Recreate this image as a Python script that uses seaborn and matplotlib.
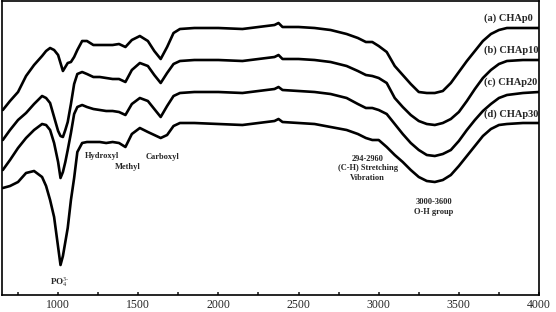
import pandas as pd
import seaborn as sns
import matplotlib.pyplot as plt
from matplotlib.ticker import MultipleLocator

# wavenumbers (cm-1) shared by all four spectra
wavenumber = [655, 700, 750, 800, 850, 900, 925, 950, 975, 1000,
              1015, 1030, 1045, 1060, 1080, 1100, 1120, 1150, 1180, 1220,
              1260, 1300, 1340, 1380, 1420, 1460, 1510, 1560, 1600, 1640,
              1680, 1720, 1760, 1850, 2000, 2150, 2300, 2350, 2375, 2400,
              2500, 2600, 2700, 2800, 2870, 2920, 2960, 3000, 3050, 3100,
              3150, 3200, 3250, 3300, 3350, 3400, 3450, 3500, 3550, 3600,
              3650, 3700, 3750, 3800, 3900, 4000]

# transmittance (arbitrary units, curves stacked)
chap0 = [190, 199, 208, 224, 235, 244, 249, 252, 250, 245,
         237, 229, 233, 237, 238, 243, 250, 259, 259, 255,
         255, 255, 255, 256, 253, 260, 264, 259, 249, 241,
         253, 267, 271, 272, 272, 271, 274, 275, 277, 273,
         273, 272, 270, 266, 262, 258, 258, 254, 248, 234,
         225, 216, 208, 207, 207, 209, 217, 228, 239, 249,
         259, 266, 270, 272, 272, 272]
chap10 = [160, 170, 180, 187, 196, 204, 202, 197, 183, 169,
          164, 163, 170, 178, 196, 216, 226, 228, 226, 223,
          223, 222, 221, 221, 218, 230, 237, 234, 225, 217,
          227, 236, 239, 240, 240, 239, 242, 243, 245, 241,
          241, 240, 238, 234, 229, 225, 224, 222, 217, 202,
          193, 185, 179, 176, 175, 177, 181, 188, 199, 211,
          222, 230, 236, 239, 240, 240]
chap20 = [130, 140, 152, 162, 170, 176, 175, 170, 157, 138,
          122, 128, 138, 150, 167, 186, 193, 195, 193, 191,
          190, 189, 189, 188, 185, 196, 202, 199, 191, 183,
          194, 204, 207, 208, 208, 207, 210, 211, 213, 210,
          209, 208, 206, 202, 196, 192, 192, 190, 186, 176,
          166, 157, 150, 145, 144, 146, 150, 159, 170, 180,
          189, 196, 202, 205, 207, 208]
chap30 = [112, 114, 118, 127, 129, 123, 114, 100, 83, 53,
          35, 44, 58, 72, 100, 122, 148, 157, 158, 158,
          158, 157, 158, 157, 153, 166, 172, 168, 165, 162,
          165, 174, 177, 177, 176, 175, 178, 179, 181, 178,
          177, 176, 173, 170, 166, 162, 160, 160, 153, 145,
          138, 130, 123, 119, 118, 120, 125, 134, 144, 154,
          164, 171, 175, 176, 177, 177]

sample_labels = ['(a) CHAp0', '(b) CHAp10', '(c) CHAp20', '(d) CHAp30']
label_y = [282, 250, 218, 186]

sns.set_style('ticks')
plt.rcParams['font.family'] = ['Liberation Serif', 'DejaVu Serif']
plt.rcParams['mathtext.fontset'] = 'stix'

fig = plt.figure(figsize=(5.56, 3.12), dpi=100)
ax = fig.add_axes([2 / 556, 17 / 312, 537 / 556, 294 / 312])

for series in [chap0, chap10, chap20, chap30]:
    sns.lineplot(x=wavenumber, y=series, color='black', linewidth=1.9, ax=ax)

# sample labels at right
for lab, yy in zip(sample_labels, label_y):
    ax.text(3655, yy, lab, fontsize=7.5, fontweight='bold', ha='left', va='center')

# band annotations
ax.text(1275, 144, 'Hydroxyl', fontsize=6, fontweight='bold', ha='center', va='center')
ax.text(1437, 133, 'Methyl', fontsize=6, fontweight='bold', ha='center', va='center')
ax.text(1650, 143, 'Carboxyl', fontsize=6, fontweight='bold', ha='center', va='center')
ax.text(1012, 18, r'PO$_4^{3\text{-}}$', fontsize=6.5, fontweight='bold', ha='center', va='center')
ax.text(2931, 131.5, '294-2960\n(C-H) Stretching\nVibration', fontsize=6, fontweight='bold',
        ha='center', va='center', linespacing=1.2)
ax.text(3344, 93, '3000-3600\nO-H group', fontsize=6, fontweight='bold',
        ha='center', va='center', linespacing=1.2)

ax.set_xlim(650, 4000)
ax.set_ylim(5, 299)
ax.xaxis.set_major_locator(MultipleLocator(500))
ax.xaxis.set_minor_locator(MultipleLocator(250))
ax.tick_params(axis='x', which='both', direction='in', length=2.5, width=1.2,
               labelsize=8.5, pad=3)
ax.set_yticks([])
ax.set_xlabel('')
ax.set_ylabel('')
for sp in ax.spines.values():
    sp.set_visible(True)
    sp.set_linewidth(1.2)
    sp.set_color('black')

fig.savefig('out.png', dpi=100)
